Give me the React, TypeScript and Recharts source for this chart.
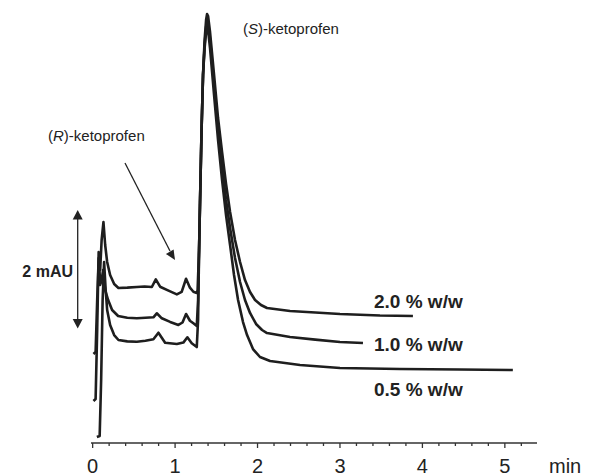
import React from "react";
import { LineChart, Line, XAxis, YAxis } from "recharts";

// retention time (min) / absorbance (mAU, arbitrary offset)
const trace20 = [
  { t: 0.01, v: 1.507 }, { t: 0.036, v: 1.541 }, { t: 0.055, v: 2.421 }, { t: 0.073, v: 3.132 },
  { t: 0.091, v: 2.929 }, { t: 0.109, v: 3.437 }, { t: 0.131, v: 3.741 }, { t: 0.152, v: 3.352 },
  { t: 0.176, v: 3.064 }, { t: 0.212, v: 2.844 }, { t: 0.261, v: 2.692 }, { t: 0.313, v: 2.624 },
  { t: 0.42, v: 2.63 }, { t: 0.536, v: 2.641 }, { t: 0.63, v: 2.65 }, { t: 0.718, v: 2.641 },
  { t: 0.766, v: 2.771 }, { t: 0.818, v: 2.646 }, { t: 0.92, v: 2.58 }, { t: 1.021, v: 2.517 },
  { t: 1.08, v: 2.56 }, { t: 1.133, v: 2.781 }, { t: 1.18, v: 2.63 }, { t: 1.222, v: 2.561 },
  { t: 1.263, v: 2.539 }, { t: 1.273, v: 2.59 }, { t: 1.291, v: 3.267 }, { t: 1.303, v: 4.114 },
  { t: 1.321, v: 5.299 }, { t: 1.339, v: 6.23 }, { t: 1.358, v: 6.822 }, { t: 1.376, v: 7.161 },
  { t: 1.388, v: 7.263 }, { t: 1.4, v: 7.229 }, { t: 1.424, v: 6.958 }, { t: 1.473, v: 6.23 },
  { t: 1.521, v: 5.502 }, { t: 1.57, v: 4.926 }, { t: 1.618, v: 4.385 }, { t: 1.667, v: 3.911 },
  { t: 1.727, v: 3.437 }, { t: 1.788, v: 3.064 }, { t: 1.848, v: 2.759 }, { t: 1.909, v: 2.556 },
  { t: 1.97, v: 2.421 }, { t: 2.042, v: 2.336 }, { t: 2.115, v: 2.285 }, { t: 2.394, v: 2.235 },
  { t: 2.7, v: 2.21 }, { t: 3.0, v: 2.184 }, { t: 3.485, v: 2.158 }, { t: 3.885, v: 2.15 },
];

const trace10 = [
  { t: 0.01, v: 0.711 }, { t: 0.036, v: 0.745 }, { t: 0.055, v: 1.913 }, { t: 0.073, v: 3.234 },
  { t: 0.091, v: 2.675 }, { t: 0.109, v: 2.759 }, { t: 0.127, v: 2.929 }, { t: 0.152, v: 2.59 },
  { t: 0.188, v: 2.421 }, { t: 0.236, v: 2.252 }, { t: 0.309, v: 2.15 }, { t: 0.42, v: 2.12 },
  { t: 0.536, v: 2.111 }, { t: 0.64, v: 2.12 }, { t: 0.737, v: 2.128 }, { t: 0.778, v: 2.196 },
  { t: 0.839, v: 2.111 }, { t: 0.94, v: 2.05 }, { t: 1.04, v: 1.998 }, { t: 1.09, v: 2.04 },
  { t: 1.133, v: 2.184 }, { t: 1.18, v: 2.07 }, { t: 1.222, v: 2.026 }, { t: 1.263, v: 1.981 },
  { t: 1.279, v: 2.421 }, { t: 1.291, v: 3.267 }, { t: 1.303, v: 4.114 }, { t: 1.321, v: 5.299 },
  { t: 1.339, v: 6.23 }, { t: 1.358, v: 6.738 }, { t: 1.376, v: 7.043 }, { t: 1.388, v: 7.127 },
  { t: 1.4, v: 7.093 }, { t: 1.424, v: 6.822 }, { t: 1.473, v: 6.061 }, { t: 1.521, v: 5.333 },
  { t: 1.57, v: 4.689 }, { t: 1.618, v: 4.114 }, { t: 1.667, v: 3.64 }, { t: 1.727, v: 3.132 },
  { t: 1.788, v: 2.726 }, { t: 1.848, v: 2.421 }, { t: 1.909, v: 2.201 }, { t: 1.982, v: 2.015 },
  { t: 2.055, v: 1.913 }, { t: 2.115, v: 1.862 }, { t: 2.394, v: 1.794 }, { t: 2.7, v: 1.75 },
  { t: 3.0, v: 1.71 }, { t: 3.279, v: 1.693 },
];

const trace05 = [
  { t: 0.051, v: 0.102 }, { t: 0.085, v: 0.119 }, { t: 0.103, v: 1.067 }, { t: 0.121, v: 2.421 },
  { t: 0.139, v: 3.064 }, { t: 0.158, v: 2.59 }, { t: 0.176, v: 2.252 }, { t: 0.212, v: 1.998 },
  { t: 0.261, v: 1.828 }, { t: 0.313, v: 1.744 }, { t: 0.42, v: 1.72 }, { t: 0.536, v: 1.715 },
  { t: 0.64, v: 1.73 }, { t: 0.737, v: 1.756 }, { t: 0.798, v: 1.867 }, { t: 0.879, v: 1.698 },
  { t: 1.021, v: 1.676 }, { t: 1.1, v: 1.7 }, { t: 1.149, v: 1.789 }, { t: 1.202, v: 1.688 },
  { t: 1.263, v: 1.625 }, { t: 1.279, v: 2.082 }, { t: 1.291, v: 3.267 }, { t: 1.303, v: 4.114 },
  { t: 1.321, v: 5.299 }, { t: 1.339, v: 6.23 }, { t: 1.358, v: 6.687 }, { t: 1.376, v: 6.958 },
  { t: 1.388, v: 7.026 }, { t: 1.4, v: 6.992 }, { t: 1.424, v: 6.687 }, { t: 1.473, v: 5.891 },
  { t: 1.521, v: 5.13 }, { t: 1.57, v: 4.452 }, { t: 1.618, v: 3.86 }, { t: 1.667, v: 3.352 },
  { t: 1.715, v: 2.844 }, { t: 1.764, v: 2.421 }, { t: 1.824, v: 2.048 }, { t: 1.873, v: 1.828 },
  { t: 1.945, v: 1.591 }, { t: 2.03, v: 1.456 }, { t: 2.152, v: 1.388 }, { t: 2.515, v: 1.32 },
  { t: 3.0, v: 1.27 }, { t: 3.727, v: 1.253 }, { t: 4.455, v: 1.245 }, { t: 5.097, v: 1.236 },
];

const timeTicks = [0, 0.2, 0.4, 0.6, 0.8, 1, 1.2, 1.4, 1.6, 1.8, 2, 2.2, 2.4, 2.6, 2.8, 3, 3.2, 3.4, 3.6, 3.8, 4, 4.2, 4.4, 4.6, 4.8, 5, 5.2];
const tickLabels = ["0", "1", "2", "3", "4", "5"];

const FONT = "'Liberation Sans', Arial, Helvetica, sans-serif";
const INK = "#1e1e1e";

const TimeTick = (props: any) => {
  const { x, y, payload } = props;
  const val = payload.value as number;
  const idx = Math.round(val);
  const major = Math.abs(val - idx) < 1e-6;
  return (
    <g>
      <line x1={x} x2={x} y1={y} y2={y + (major ? 5 : 3)} stroke="#333" strokeWidth={1.3} />
      {major && (
        <text x={x} y={y + 30} textAnchor="middle" fontSize={20} fontFamily={FONT} fill="#222">
          {tickLabels[idx]}
        </text>
      )}
    </g>
  );
};

export default function App() {
  return (
    <div style={{ position: "absolute", left: 0, top: 0, width: 589, height: 476, background: "#fff" }}>
      <LineChart width={589} height={476} margin={{ top: 0, right: 52, bottom: 3, left: 91 }}>
        <XAxis
          dataKey="t"
          type="number"
          domain={[-0.02, 5.39]}
          ticks={timeTicks}
          tick={<TimeTick />}
          tickLine={false}
          tickSize={0}
          tickMargin={0}
          interval={0}
          height={30}
          axisLine={{ stroke: "#333", strokeWidth: 1.5 }}
          allowDataOverflow
        />
        <YAxis type="number" domain={[0, 7.5]} hide allowDataOverflow />
        <Line data={trace20} dataKey="v" type="linear" stroke={INK} strokeWidth={2.6} dot={false} isAnimationActive={false} strokeLinejoin="round" />
        <Line data={trace10} dataKey="v" type="linear" stroke={INK} strokeWidth={2.6} dot={false} isAnimationActive={false} strokeLinejoin="round" />
        <Line data={trace05} dataKey="v" type="linear" stroke={INK} strokeWidth={2.6} dot={false} isAnimationActive={false} strokeLinejoin="round" />
      </LineChart>
      <svg width={589} height={476} style={{ position: "absolute", left: 0, top: 0, pointerEvents: "none" }}>
        <text x={243} y={34} fontSize={15} fontFamily={FONT} fill="#222">
          (<tspan fontStyle="italic">S</tspan>)-ketoprofen
        </text>
        <text x={48} y={141} fontSize={15} fontFamily={FONT} fill="#222">
          (<tspan fontStyle="italic">R</tspan>)-ketoprofen
        </text>
        <line x1={125} y1={163} x2={170} y2={251} stroke="#222" strokeWidth={1.3} />
        <polygon points="175,260 165.9,253.9 173.6,249.4" fill="#222" />
        <line x1={77.7} y1={216} x2={77.7} y2={322} stroke="#222" strokeWidth={1.3} />
        <polygon points="77.7,210 72.7,219.5 82.7,219.5" fill="#222" />
        <polygon points="77.7,328.5 72.7,319 82.7,319" fill="#222" />
        <text x={73} y={277} textAnchor="end" fontSize={16} fontWeight="bold" fontFamily={FONT} fill="#222">2 mAU</text>
        <text x={374} y={308} fontSize={19} fontWeight="bold" fontFamily={FONT} fill="#222">2.0 % w/w</text>
        <text x={374} y={351} fontSize={19} fontWeight="bold" fontFamily={FONT} fill="#222">1.0 % w/w</text>
        <text x={374} y={396} fontSize={19} fontWeight="bold" fontFamily={FONT} fill="#222">0.5 % w/w</text>
        <text x={549} y={473} fontSize={20} fontFamily={FONT} fill="#222">min</text>
      </svg>
    </div>
  );
}
